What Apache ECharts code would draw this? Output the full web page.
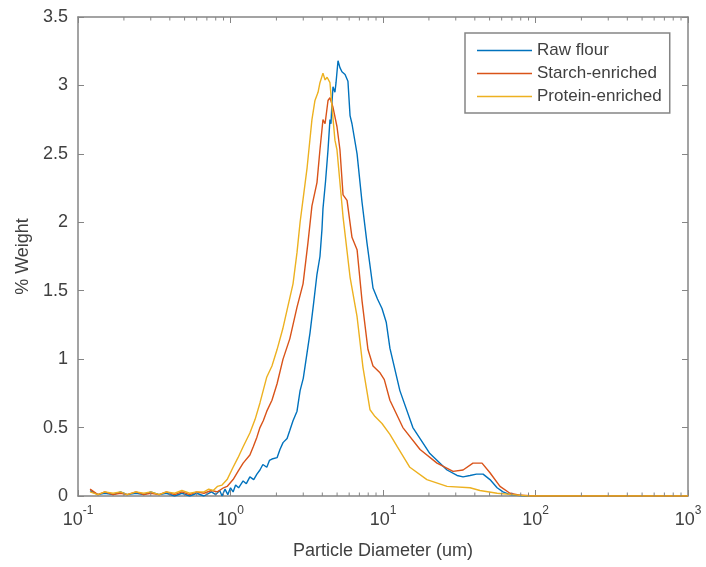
<!DOCTYPE html>
<html>
<head>
<meta charset="utf-8">
<script src="https://cdn.jsdelivr.net/npm/echarts@6/dist/echarts.min.js"></script>
<style>
html,body{margin:0;padding:0;background:#fff;}
#chart{width:706px;height:567px;}
</style>
</head>
<body>
<div id="chart"></div>
<script>
// ---- data ----
const seriesNames = ['Raw flour', 'Starch-enriched', 'Protein-enriched'];
const seriesColors = ['#0072BD', '#D95319', '#EDB120'];

const rawX = [0.12,0.135,0.15,0.17,0.19,0.21,0.24,0.27,0.30,0.34,0.38,0.43,0.48,0.54,0.60,0.67,0.75,0.80,0.85,0.88,0.92,0.96,1.0,1.04,1.08,1.13,1.21,1.27,1.34,1.42,1.49,1.56,1.63,1.73,1.80,1.87,2.02,2.11,2.21,2.35,2.45,2.57,2.73,2.86,3.0,3.18,3.32,3.5,3.69,3.86,3.98,4.04,4.2,4.36,4.49,4.56,4.63,4.70,4.84,4.92,5.07,5.22,5.38,5.64,5.89,6.08,6.26,6.76,7.28,7.85,8.6,9.2,9.85,10.5,11.1,12.9,15.7,20.3,26.3,30.6,33.5,37.2,41,45.3,50.3,56,61.2,68,75.6,85,100,200,500,1000];
const rawY = [0.04,0.01,0.02,0.01,0.03,0.01,0.02,0.01,0.03,0.01,0.02,0.00,0.02,0.00,0.02,0.00,0.03,0.01,0.04,0.00,0.05,0.01,0.06,0.03,0.08,0.06,0.11,0.09,0.14,0.12,0.16,0.19,0.23,0.21,0.26,0.27,0.28,0.34,0.39,0.42,0.48,0.55,0.62,0.77,0.86,1.05,1.19,1.40,1.62,1.75,1.95,2.10,2.30,2.53,2.75,2.72,2.88,2.99,2.95,3.02,3.18,3.13,3.10,3.08,3.03,2.78,2.72,2.50,2.15,1.85,1.52,1.44,1.37,1.27,1.08,0.77,0.50,0.31,0.19,0.15,0.14,0.15,0.16,0.16,0.12,0.06,0.03,0.01,0.005,0,0,0,0,0];

const starchX = [0.12,0.135,0.15,0.17,0.19,0.21,0.24,0.27,0.30,0.34,0.38,0.43,0.48,0.54,0.60,0.67,0.75,0.82,0.90,0.95,1.04,1.12,1.21,1.34,1.41,1.49,1.56,1.64,1.73,1.87,2.02,2.21,2.45,2.73,2.99,3.22,3.42,3.69,3.86,4.04,4.17,4.36,4.49,4.70,4.99,5.22,5.47,5.81,6.26,6.76,7.28,7.97,8.6,9.56,10.2,11.1,13.5,17.5,22.6,28.8,33.5,38.9,44.6,50.3,58.5,68,80,100,200,500,1000];
const starchY = [0.05,0.01,0.03,0.01,0.02,0.01,0.03,0.01,0.02,0.01,0.03,0.01,0.03,0.01,0.03,0.02,0.04,0.03,0.06,0.07,0.12,0.18,0.24,0.30,0.36,0.43,0.50,0.55,0.62,0.70,0.82,1.00,1.15,1.38,1.55,1.85,2.12,2.29,2.53,2.75,2.72,2.89,2.91,2.84,2.70,2.53,2.20,2.16,1.89,1.80,1.43,1.07,0.95,0.90,0.85,0.70,0.50,0.34,0.24,0.18,0.19,0.24,0.24,0.17,0.07,0.02,0.005,0,0,0,0];

const proteinX = [0.12,0.135,0.15,0.17,0.19,0.21,0.24,0.27,0.30,0.34,0.38,0.43,0.48,0.54,0.60,0.67,0.72,0.77,0.82,0.88,0.95,1.04,1.12,1.21,1.34,1.45,1.56,1.73,1.87,2.02,2.2,2.35,2.57,2.73,2.86,3.0,3.18,3.42,3.58,3.75,3.86,4.04,4.17,4.30,4.49,4.63,4.84,4.99,5.47,6.08,6.76,7.39,8.22,8.87,9.85,11.1,12.4,15.0,19.4,26.3,37.2,43.2,56,71,90,200,500,1000];
const proteinY = [0.03,0.01,0.03,0.02,0.03,0.01,0.03,0.02,0.03,0.01,0.03,0.02,0.04,0.02,0.03,0.03,0.05,0.04,0.07,0.08,0.12,0.21,0.28,0.36,0.46,0.56,0.68,0.87,0.95,1.07,1.22,1.36,1.55,1.78,2.00,2.18,2.40,2.75,2.89,2.95,3.02,3.09,3.04,3.06,3.02,2.84,2.60,2.53,2.04,1.60,1.31,0.94,0.63,0.58,0.53,0.45,0.36,0.21,0.12,0.07,0.06,0.04,0.02,0.01,0,0,0,0];

const xMinorTicks = [0.2,0.3,0.4,0.5,0.6,0.7,0.8,0.9,2,3,4,5,6,7,8,9,20,30,40,50,60,70,80,90,200,300,400,500,600,700,800,900];
const xMin = 0.1, xMax = 1000;
const yMin = 0, yMax = 3.5, yStep = 0.5;

// ---- chart ----
const axisColor = '#858585';
const textColor = '#404040';
const font = 'Liberation Sans, Arial, sans-serif';

function zip(xs, ys) { return xs.map((x, i) => [x, ys[i]]); }

const chart = echarts.init(document.getElementById('chart'), null, {renderer: 'canvas'});

const lineSeries = [[rawX, rawY], [starchX, starchY], [proteinX, proteinY]].map((d, i) => ({
  name: seriesNames[i],
  type: 'line',
  data: zip(d[0], d[1]),
  symbol: 'none',
  showSymbol: false,
  smooth: false,
  lineStyle: {color: seriesColors[i], width: 1.4},
  itemStyle: {color: seriesColors[i]},
  z: 2 + i,
  animation: false
}));

const minorTickSeries = {
  type: 'custom',
  silent: true,
  animation: false,
  z: 10,
  data: xMinorTicks.map(v => [v, yMin]),
  encode: {x: 0, y: 1},
  clip: false,
  renderItem: function (params, api) {
    const v = api.value(0);
    const b = api.coord([v, yMin]);
    const t = api.coord([v, yMax]);
    return {
      type: 'group',
      children: [
        {type: 'line', shape: {x1: b[0], y1: b[1], x2: b[0], y2: b[1] - 3.5}, style: {stroke: axisColor, lineWidth: 1}},
        {type: 'line', shape: {x1: t[0], y1: t[1], x2: t[0], y2: t[1] + 3.5}, style: {stroke: axisColor, lineWidth: 1}}
      ]
    };
  }
};

const option = {
  backgroundColor: '#ffffff',
  animation: false,
  textStyle: {fontFamily: font},
  grid: {left: 78, right: 18, top: 17, bottom: 71, containLabel: false},
  legend: {
    data: seriesNames,
    orient: 'vertical',
    left: 465,
    top: 33,
    icon: 'rect',
    itemWidth: 55,
    itemHeight: 1.6,
    itemGap: 6,
    padding: [9, 8, 8, 12],
    borderColor: axisColor,
    borderWidth: 1.5,
    backgroundColor: '#ffffff',
    textStyle: {fontFamily: font, fontSize: 17, color: textColor, lineHeight: 17},
    selectedMode: false
  },
  xAxis: [{
    type: 'log',
    logBase: 10,
    min: xMin,
    max: xMax,
    splitNumber: 4,
    name: 'Particle Diameter (um)',
    nameLocation: 'middle',
    nameGap: 46,
    nameTextStyle: {fontFamily: font, fontSize: 18, color: textColor},
    axisLine: {show: true, onZero: false, lineStyle: {color: axisColor, width: 1.5}},
    axisTick: {show: true, inside: true, length: 6, lineStyle: {color: axisColor, width: 1}},
    splitLine: {show: false},
    axisLabel: {
      margin: 9,
      color: textColor,
      formatter: function (v) { return '{b|10}{s|' + Math.round(Math.log10(v)) + '}'; },
      rich: {
        b: {fontFamily: font, fontSize: 18, color: textColor, verticalAlign: 'bottom', lineHeight: 24},
        s: {fontFamily: font, fontSize: 12, color: textColor, verticalAlign: 'top', lineHeight: 24}
      }
    }
  }, {
    type: 'log',
    logBase: 10,
    min: xMin,
    max: xMax,
    splitNumber: 4,
    position: 'top',
    axisLine: {show: true, onZero: false, lineStyle: {color: axisColor, width: 1.5}},
    axisTick: {show: true, inside: true, length: 6, lineStyle: {color: axisColor, width: 1}},
    axisLabel: {show: false},
    splitLine: {show: false}
  }],
  yAxis: [{
    type: 'value',
    min: yMin,
    max: yMax,
    interval: yStep,
    name: '% Weight',
    nameLocation: 'middle',
    nameGap: 44,
    nameTextStyle: {fontFamily: font, fontSize: 18, color: textColor},
    axisLine: {show: true, onZero: false, lineStyle: {color: axisColor, width: 1.5}},
    axisTick: {show: true, inside: true, length: 6, lineStyle: {color: axisColor, width: 1}},
    splitLine: {show: false},
    axisLabel: {margin: 10, fontFamily: font, fontSize: 18, color: textColor}
  }, {
    type: 'value',
    min: yMin,
    max: yMax,
    interval: yStep,
    position: 'right',
    axisLine: {show: true, onZero: false, lineStyle: {color: axisColor, width: 1.5}},
    axisTick: {show: true, inside: true, length: 6, lineStyle: {color: axisColor, width: 1}},
    axisLabel: {show: false},
    splitLine: {show: false}
  }],
  series: lineSeries.concat([minorTickSeries])
};

chart.setOption(option);
</script>
</body>
</html>
